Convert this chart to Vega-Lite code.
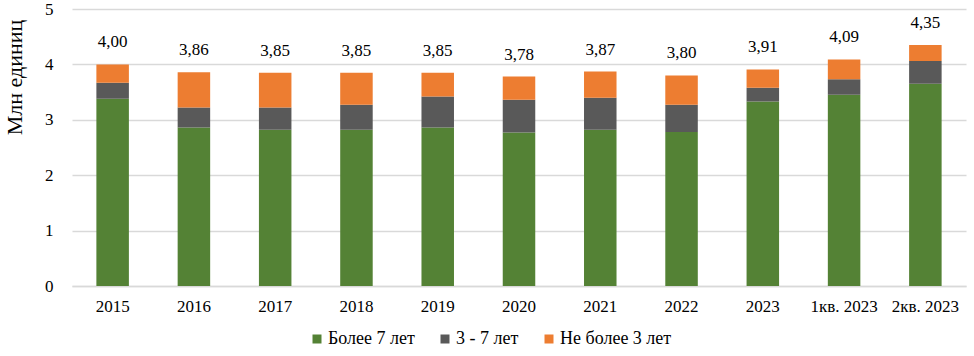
{
  "$schema": "https://vega.github.io/schema/vega-lite/v6.json",
  "width": 894,
  "height": 277,
  "autosize": {"type": "none"},
  "padding": {"left": 72, "top": 9, "right": 8, "bottom": 70},
  "background": "white",
  "datasets": {
    "segments": [
      {"period": "2015", "group": "Более 7 лет", "ord": 1, "value": 3.38},
      {"period": "2015", "group": "3 - 7 лет", "ord": 2, "value": 0.29},
      {"period": "2015", "group": "Не более 3 лет", "ord": 3, "value": 0.33},
      {"period": "2016", "group": "Более 7 лет", "ord": 1, "value": 2.86},
      {"period": "2016", "group": "3 - 7 лет", "ord": 2, "value": 0.36},
      {"period": "2016", "group": "Не более 3 лет", "ord": 3, "value": 0.64},
      {"period": "2017", "group": "Более 7 лет", "ord": 1, "value": 2.82},
      {"period": "2017", "group": "3 - 7 лет", "ord": 2, "value": 0.40},
      {"period": "2017", "group": "Не более 3 лет", "ord": 3, "value": 0.63},
      {"period": "2018", "group": "Более 7 лет", "ord": 1, "value": 2.82},
      {"period": "2018", "group": "3 - 7 лет", "ord": 2, "value": 0.45},
      {"period": "2018", "group": "Не более 3 лет", "ord": 3, "value": 0.58},
      {"period": "2019", "group": "Более 7 лет", "ord": 1, "value": 2.86},
      {"period": "2019", "group": "3 - 7 лет", "ord": 2, "value": 0.56},
      {"period": "2019", "group": "Не более 3 лет", "ord": 3, "value": 0.43},
      {"period": "2020", "group": "Более 7 лет", "ord": 1, "value": 2.77},
      {"period": "2020", "group": "3 - 7 лет", "ord": 2, "value": 0.59},
      {"period": "2020", "group": "Не более 3 лет", "ord": 3, "value": 0.42},
      {"period": "2021", "group": "Более 7 лет", "ord": 1, "value": 2.82},
      {"period": "2021", "group": "3 - 7 лет", "ord": 2, "value": 0.58},
      {"period": "2021", "group": "Не более 3 лет", "ord": 3, "value": 0.47},
      {"period": "2022", "group": "Более 7 лет", "ord": 1, "value": 2.78},
      {"period": "2022", "group": "3 - 7 лет", "ord": 2, "value": 0.49},
      {"period": "2022", "group": "Не более 3 лет", "ord": 3, "value": 0.53},
      {"period": "2023", "group": "Более 7 лет", "ord": 1, "value": 3.33},
      {"period": "2023", "group": "3 - 7 лет", "ord": 2, "value": 0.25},
      {"period": "2023", "group": "Не более 3 лет", "ord": 3, "value": 0.33},
      {"period": "1кв. 2023", "group": "Более 7 лет", "ord": 1, "value": 3.45},
      {"period": "1кв. 2023", "group": "3 - 7 лет", "ord": 2, "value": 0.28},
      {"period": "1кв. 2023", "group": "Не более 3 лет", "ord": 3, "value": 0.36},
      {"period": "2кв. 2023", "group": "Более 7 лет", "ord": 1, "value": 3.65},
      {"period": "2кв. 2023", "group": "3 - 7 лет", "ord": 2, "value": 0.41},
      {"period": "2кв. 2023", "group": "Не более 3 лет", "ord": 3, "value": 0.29}
    ],
    "totals": [
      {"period": "2015", "total": 4.00, "label": "4,00"},
      {"period": "2016", "total": 3.86, "label": "3,86"},
      {"period": "2017", "total": 3.85, "label": "3,85"},
      {"period": "2018", "total": 3.85, "label": "3,85"},
      {"period": "2019", "total": 3.85, "label": "3,85"},
      {"period": "2020", "total": 3.78, "label": "3,78"},
      {"period": "2021", "total": 3.87, "label": "3,87"},
      {"period": "2022", "total": 3.80, "label": "3,80"},
      {"period": "2023", "total": 3.91, "label": "3,91"},
      {"period": "1кв. 2023", "total": 4.09, "label": "4,09"},
      {"period": "2кв. 2023", "total": 4.35, "label": "4,35"}
    ]
  },
  "encoding": {
    "x": {
      "field": "period",
      "type": "nominal",
      "sort": null,
      "scale": {"paddingInner": 0.6, "paddingOuter": 0.3},
      "axis": {
        "title": null,
        "labelAngle": 0,
        "labelFont": "Liberation Serif",
        "labelFontSize": 17,
        "labelColor": "black",
        "labelPadding": 12,
        "ticks": false,
        "domain": true,
        "domainColor": "#d9d9d9",
        "domainWidth": 1.5,
        "grid": false
      }
    }
  },
  "layer": [
    {
      "data": {"name": "segments"},
      "mark": {"type": "bar"},
      "encoding": {
        "y": {
          "field": "value",
          "type": "quantitative",
          "stack": "zero",
          "scale": {"domain": [0, 5], "nice": false},
          "axis": {
            "title": "Млн единиц",
            "titleFont": "Liberation Serif",
            "titleFontSize": 22,
            "titleFontWeight": "normal",
            "titleColor": "black",
            "titleY": 68,
            "titleX": -46,
            "titleAlign": "center",
            "values": [0, 1, 2, 3, 4, 5],
            "labelFont": "Liberation Serif",
            "labelFontSize": 17,
            "labelColor": "black",
            "labelPadding": 19,
            "ticks": false,
            "domain": false,
            "grid": true,
            "gridColor": "#d9d9d9",
            "gridWidth": 1.5
          }
        },
        "color": {
          "field": "group",
          "type": "nominal",
          "scale": {
            "domain": ["Более 7 лет", "3 - 7 лет", "Не более 3 лет"],
            "range": ["#548235", "#595959", "#ed7d31"]
          },
          "legend": {
            "title": null,
            "orient": "none",
            "direction": "horizontal",
            "legendX": 236,
            "legendY": 321,
            "symbolType": "square",
            "symbolSize": 81,
            "symbolStrokeWidth": 0,
            "labelFont": "Liberation Serif",
            "labelFontSize": 18,
            "labelColor": "black",
            "labelOffset": 2,
            "columnPadding": 21
          }
        },
        "order": {"field": "ord", "type": "quantitative"}
      }
    },
    {
      "data": {"name": "totals"},
      "mark": {
        "type": "text",
        "baseline": "middle",
        "dy": -22,
        "font": "Liberation Serif",
        "fontSize": 17,
        "color": "black"
      },
      "encoding": {
        "y": {"field": "total", "type": "quantitative"},
        "text": {"field": "label", "type": "nominal"}
      }
    }
  ],
  "config": {
    "font": "Liberation Serif",
    "view": {"stroke": null},
    "legend": {"labelFont": "Liberation Serif"}
  }
}
